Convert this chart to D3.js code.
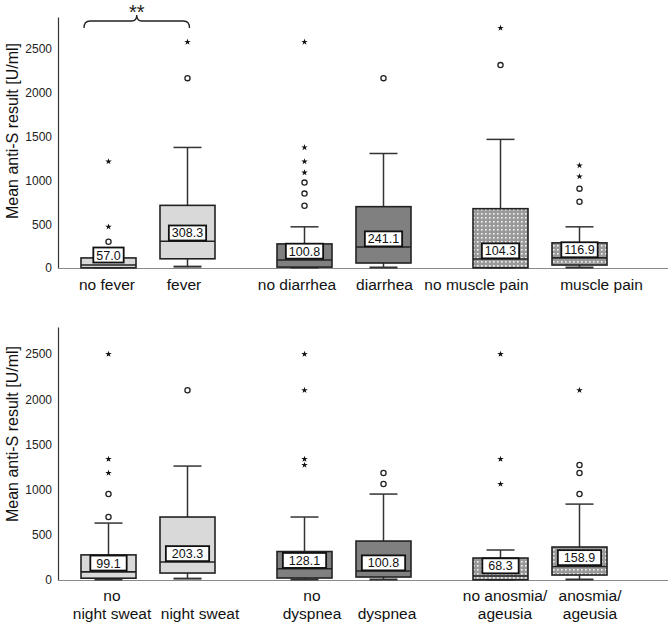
<!DOCTYPE html>
<html>
<head>
<meta charset="utf-8">
<script src="https://cdn.jsdelivr.net/npm/d3@7/dist/d3.min.js"></script>
<style>
  html, body { margin: 0; padding: 0; background: #fff; }
  svg { display: block; font-family: Arial, "Liberation Sans", sans-serif; }
</style>
</head>
<body>
<svg id="chart" width="670" height="626"></svg>
<script>
// ---------- DATA ----------
const groups = ["g1", "g2", "g3"];
const levels = ["no", "yes"];
const groupFills = ["#d9d9d9", "#808080", "url(#dots)"];
const yTicks = [0, 500, 1000, 1500, 2000, 2500];
const yTitle = "Mean anti-S result [U/ml]";

// top panel
const topCategories = [["no fever"], ["fever"], ["no diarrhea"], ["diarrhea"], ["no muscle pain"], ["muscle pain"]];
const topMeans = [57.0, 308.3, 100.8, 241.1, 104.3, 116.9];
const topQ1 = [2, 105, 10, 57, 2, 34];
const topMedian = [35, 305, 92, 240, 103, 115];
const topQ3 = [115, 715, 275, 700, 677, 287];
const topWhiskerLow = [0, 10, 0, 0, 0, 0];
const topWhiskerHigh = [172, 1376, 470, 1307, 1468, 470];
const topCircles = [[300], [2167], [711, 849, 975], [2167], [2316], [757, 906]];
const topStars = [[470, 1215], [2580], [1089, 1215, 1376, 2580], [], [2740], [1044, 1170]];

// bottom panel
const bottomCategories = [["no", "night sweat"], ["night sweat"], ["no", "dyspnea"], ["dyspnea"], ["no anosmia/", "ageusia"], ["anosmia/", "ageusia"]];
const bottomMeans = [99.1, 203.3, 128.1, 100.8, 68.3, 158.9];
const bottomQ1 = [20, 77, 22, 33, 2, 55];
const bottomMedian = [90, 200, 125, 100, 45, 150];
const bottomQ3 = [278, 697, 315, 431, 243, 365];
const bottomWhiskerLow = [0, 10, 0, 0, 0, 0];
const bottomWhiskerHigh = [630, 1261, 697, 951, 332, 840];
const bottomCircles = [[697, 951], [2100], [], [1062, 1184], [], [951, 1184, 1272]];
const bottomStars = [[1184, 1338, 2500], [], [1272, 1338, 2100, 2500], [], [1062, 1338, 2500], [2100]];

const significance = "**";

// ---------- LAYOUT (style, not data) ----------
const topLabelNudge = [-1.5, -3.5, -7.5, 1, -24, 22];
const bottomLabelNudge = [3.5, 12.5, 7.5, 3.5, 4.5, 10.5];

// ---------- DRAW ----------
const svg = d3.select("#chart");
const defs = svg.append("defs");
const pat = defs.append("pattern").attr("id", "dots")
  .attr("patternUnits", "userSpaceOnUse").attr("width", 4).attr("height", 4);
pat.append("rect").attr("width", 4).attr("height", 4).attr("fill", "#9a9a9a");
pat.append("rect").attr("x", 1).attr("y", 1).attr("width", 1.6).attr("height", 1.6).attr("fill", "#f4f4f4");

const xGroup = d3.scaleBand().domain(groups).range([50, 638]);
const xInner = d3.scalePoint().domain(levels).range([0, xGroup.bandwidth()]).padding(0.7405);
const xPos = i => xGroup(groups[Math.floor(i / 2)]) + xInner(levels[i % 2]);
const boxW = 55, capW = 28;

function panel(cfg) {
  const y = d3.scaleLinear().domain([0, cfg.yMax]).range([cfg.y0, cfg.yTop]);
  const g = svg.append("g");

  // y axis
  const ax = g.append("g").attr("transform", "translate(58,0)")
    .call(d3.axisLeft(y).tickValues(yTicks).tickSize(0).tickPadding(6).tickFormat(d3.format("d")));
  ax.select(".domain").attr("stroke", "#333").attr("stroke-width", 1.2);
  ax.selectAll("text").attr("font-size", 12).attr("fill", "#222")
    .attr("font-family", "Arial, 'Liberation Sans', sans-serif");

  // baseline
  g.append("line").attr("x1", 58).attr("x2", 668)
    .attr("y1", y(0) + 0.5).attr("y2", y(0) + 0.5)
    .attr("stroke", "#8a8a8a").attr("stroke-width", 1.2);

  // y title
  g.append("text")
    .attr("transform", `translate(18,${cfg.titleY}) rotate(-90)`)
    .attr("text-anchor", "middle").attr("font-size", 16).attr("fill", "#111")
    .text(yTitle);

  cfg.cats.forEach((cat, i) => {
    const cx = xPos(i);
    const fill = groupFills[Math.floor(i / 2)];
    const bg = g.append("g");
    // whiskers
    bg.append("line").attr("x1", cx).attr("x2", cx)
      .attr("y1", y(cfg.q3[i])).attr("y2", y(cfg.wh[i]))
      .attr("stroke", "#333").attr("stroke-width", 1.5);
    bg.append("line").attr("x1", cx).attr("x2", cx)
      .attr("y1", y(cfg.q1[i])).attr("y2", y(cfg.wl[i]))
      .attr("stroke", "#333").attr("stroke-width", 1.5);
    bg.append("line").attr("x1", cx - capW / 2).attr("x2", cx + capW / 2)
      .attr("y1", y(cfg.wh[i])).attr("y2", y(cfg.wh[i]))
      .attr("stroke", "#333").attr("stroke-width", 1.5);
    bg.append("line").attr("x1", cx - capW / 2).attr("x2", cx + capW / 2)
      .attr("y1", y(cfg.wl[i]) - 0.5).attr("y2", y(cfg.wl[i]) - 0.5)
      .attr("stroke", "#333").attr("stroke-width", 2);
    // box
    bg.append("rect").attr("x", cx - boxW / 2).attr("width", boxW)
      .attr("y", y(cfg.q3[i])).attr("height", y(cfg.q1[i]) - y(cfg.q3[i]))
      .attr("fill", fill).attr("stroke", "#222").attr("stroke-width", 1.6);
    // median
    bg.append("line").attr("x1", cx - boxW / 2).attr("x2", cx + boxW / 2)
      .attr("y1", y(cfg.med[i])).attr("y2", y(cfg.med[i]))
      .attr("stroke", "#222").attr("stroke-width", 1.6);
    // outliers
    cfg.circles[i].forEach(v => {
      bg.append("circle").attr("cx", cx).attr("cy", y(v)).attr("r", 2.6)
        .attr("fill", "#fff").attr("stroke", "#222").attr("stroke-width", 1.3);
    });
    cfg.stars[i].forEach(v => {
      bg.append("path").attr("d", d3.symbol(d3.symbolStar).size(13)())
        .attr("transform", `translate(${cx},${y(v)})`).attr("fill", "#111");
    });
    // mean label
    const ly = Math.min(y(cfg.means[i]) - 8, y(0) - 8);
    const lbl = bg.append("g").attr("transform", `translate(${cx},${ly})`);
    const t = lbl.append("text").attr("text-anchor", "middle").attr("dy", "0.36em")
      .attr("font-size", 12.5).attr("fill", "#111").text(cfg.means[i].toFixed(1));
    const tw = t.node().getComputedTextLength();
    lbl.insert("rect", "text").attr("x", -tw / 2 - cfg.pad).attr("width", tw + 2 * cfg.pad)
      .attr("y", -7.5).attr("height", 15)
      .attr("fill", "#fff").attr("stroke", "#111").attr("stroke-width", 1.8);
    // category label
    const n = cat.length;
    cat.forEach((line, k) => {
      g.append("text").attr("x", cx + cfg.nudge[i]).attr("y", cfg.labelY - (n - 1 - k) * 18)
        .attr("text-anchor", "middle").attr("font-size", 15.5).attr("fill", "#111")
        .text(line);
    });
  });
  return y;
}

panel({
  yMax: 2865, y0: 268, yTop: 17, titleY: 131, labelY: 290, pad: 3, nudge: topLabelNudge,
  cats: topCategories, means: topMeans, q1: topQ1, med: topMedian, q3: topQ3,
  wl: topWhiskerLow, wh: topWhiskerHigh, circles: topCircles, stars: topStars
});
panel({
  yMax: 2800, y0: 580, yTop: 327, titleY: 434, labelY: 619, pad: 6, nudge: bottomLabelNudge,
  cats: bottomCategories, means: bottomMeans, q1: bottomQ1, med: bottomMedian, q3: bottomQ3,
  wl: bottomWhiskerLow, wh: bottomWhiskerHigh, circles: bottomCircles, stars: bottomStars
});

// significance bracket (curly brace) between "no fever" and "fever"
const bl = xPos(0) - boxW / 2 + 3, br = xPos(1) + 2, bm = (bl + br) / 2;
const by = 21;
const brace = d3.path();
brace.moveTo(bl, 28);
brace.quadraticCurveTo(bl, by, bl + 6, by);
brace.lineTo(bm - 5, by);
brace.quadraticCurveTo(bm, by, bm, 15);
brace.quadraticCurveTo(bm, by, bm + 5, by);
brace.lineTo(br - 6, by);
brace.quadraticCurveTo(br, by, br, 28);
svg.append("path").attr("d", brace.toString()).attr("fill", "none")
  .attr("stroke", "#222").attr("stroke-width", 1.3);
svg.append("text").attr("x", bm).attr("y", 19).attr("text-anchor", "middle")
  .attr("font-size", 20).attr("fill", "#222").text(significance);
</script>
</body>
</html>
